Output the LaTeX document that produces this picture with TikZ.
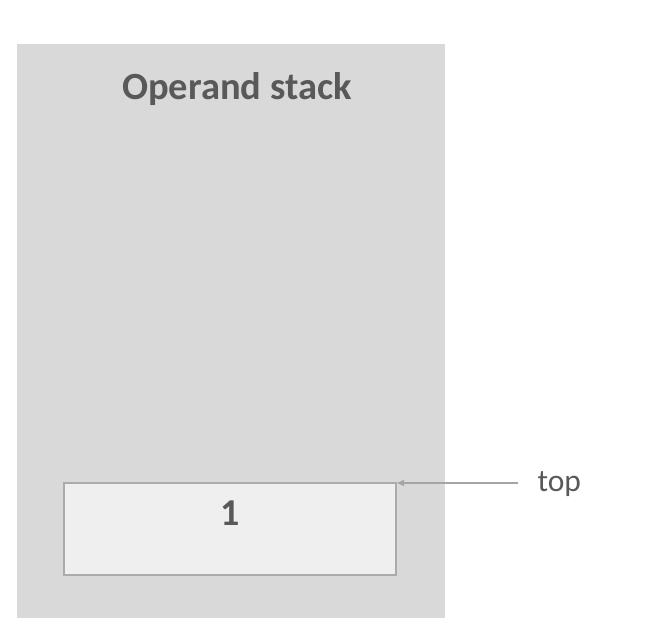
\documentclass[tikz,border=0pt]{standalone}
\usepackage{fontspec}
\setmainfont{Carlito}
\usetikzlibrary{arrows.meta}
\definecolor{bgpanel}{HTML}{D9D9D9}
\definecolor{cellfill}{HTML}{EFEFEF}
\definecolor{celldraw}{HTML}{ABABAB}
\definecolor{txt}{HTML}{595959}
\definecolor{arrowc}{HTML}{A5A5A5}
\begin{document}
\begin{tikzpicture}[x=1pt,y=-1pt,
  panel/.style={fill=bgpanel, draw=none},
  cell/.style={fill=cellfill, draw=celldraw, line width=1.2pt},
  ptr/.style={draw=arrowc, line width=1.2pt, -{Triangle[length=7pt,width=6pt]}}]
\useasboundingbox (0,0) rectangle (650,636);
\path[panel] (17,44) rectangle (445,618);
\node[text=txt, font=\bfseries\fontsize{38.5}{44}\selectfont] (title) at (237,89) {Operand stack};
\path[cell] (64,483) rectangle (396,575);
\coordinate (cellNE) at (397,483);
\node[text=txt, font=\bfseries\fontsize{38}{44}\selectfont] (one) at (230,513) {1};
\node[text=txt, font=\fontsize{31.5}{36}\selectfont, anchor=west] (top) at (534,484) {top};
\coordinate (tail) at (518,483);
\draw[ptr] (tail) -- (cellNE);
\end{tikzpicture}
\end{document}
